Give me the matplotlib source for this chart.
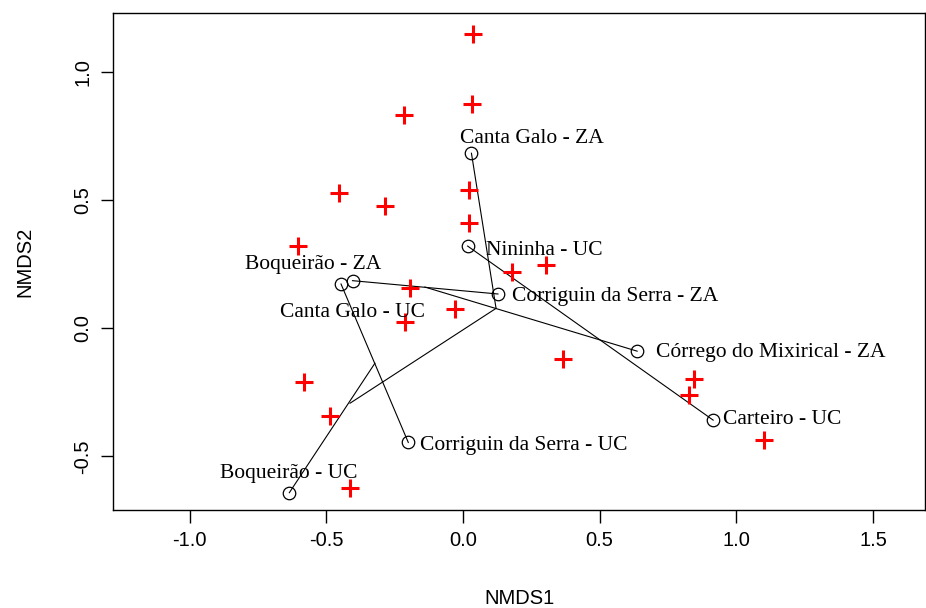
import matplotlib
matplotlib.use("Agg")
import matplotlib.pyplot as plt

# species scores (red crosses)
sp_x = [0.037, 0.033, -0.216, -0.453, -0.285, 0.022, 0.022, -0.603, 0.179, 0.303,
        -0.194, -0.029, -0.212, 0.366, -0.581, 0.845, 0.826, -0.486, 1.10, -0.413]
sp_y = [1.148, 0.875, 0.832, 0.527, 0.477, 0.539, 0.410, 0.320, 0.219, 0.246,
        0.156, 0.074, 0.023, -0.121, -0.211, -0.199, -0.262, -0.344, -0.437, -0.625]

# sites (open circles)
site_names = ["Canta Galo - ZA", "Nininha - UC", "Boqueirão - ZA", "Canta Galo - UC",
              "Corriguin da Serra - ZA", "Córrego do Mixirical - ZA", "Carteiro - UC",
              "Corriguin da Serra - UC", "Boqueirão - UC"]
site_x = [0.031, 0.017, -0.404, -0.446, 0.128, 0.637, 0.915, -0.200, -0.635]
site_y = [0.682, 0.320, 0.185, 0.172, 0.133, -0.090, -0.359, -0.446, -0.642]

# segment endpoints (x0, y0, x1, y1)
seg_x0 = [0.031, -0.404, -0.139, 0.017, -0.446, -0.635, -0.413]
seg_y0 = [0.682, 0.185, 0.160, 0.320, 0.172, -0.642, -0.293]
seg_x1 = [0.121, 0.128, 0.637, 0.915, -0.200, -0.322, 0.121]
seg_y1 = [0.077, 0.133, -0.090, -0.359, -0.446, -0.137, 0.077]

# label offsets in pixels (dx, dy) and alignment
label_pos = {
    "Canta Galo - ZA": (-11, 15, "left"),
    "Nininha - UC": (18, -4, "left"),
    "Boqueirão - ZA": (-39, 16, "center"),
    "Canta Galo - UC": (11, -29, "center"),
    "Corriguin da Serra - ZA": (14, -3, "left"),
    "Córrego do Mixirical - ZA": (19, -1, "left"),
    "Carteiro - UC": (10, 1, "left"),
    "Corriguin da Serra - UC": (12, -3, "left"),
    "Boqueirão - UC": (-1, 19, "center"),
}

fig = plt.figure(figsize=(9.26, 6.08), dpi=100)
ax = fig.add_axes([0.122, 0.161, 0.877, 0.818])

for x0, y0, x1, y1 in zip(seg_x0, seg_y0, seg_x1, seg_y1):
    ax.plot([x0, x1], [y0, y1], color="black", lw=0.8, zorder=2)

ax.plot(sp_x, sp_y, "+", color="red", ms=12.5, mew=2.2, zorder=3)
ax.plot(site_x, site_y, "o", mfc="none", mec="black", ms=9, mew=0.9, zorder=4)

for name, x, y in zip(site_names, site_x, site_y):
    dx, dy, ha = label_pos[name]
    ax.annotate(name, (x, y), xytext=(dx * 0.72, dy * 0.72), textcoords="offset points",
                ha=ha, va="center", fontsize=15.5, family="Liberation Serif", zorder=5)

ax.set_xlim(-1.28, 1.69)
ax.set_ylim(-0.71, 1.23)
ax.set_xticks([-1.0, -0.5, 0.0, 0.5, 1.0, 1.5])
ax.set_yticks([-0.5, 0.0, 0.5, 1.0])
ax.set_xticklabels(["-1.0", "-0.5", "0.0", "0.5", "1.0", "1.5"])
ax.set_yticklabels(["-0.5", "0.0", "0.5", "1.0"], rotation=90, va="center")
ax.tick_params(length=9, width=1, labelsize=14.5, pad=6)
for lab in ax.get_xticklabels() + ax.get_yticklabels():
    lab.set_family("Liberation Sans")
for s in ax.spines.values():
    s.set_linewidth(1)

ax.set_xlabel("NMDS1", fontsize=14.5, family="Liberation Sans", labelpad=28)
ax.set_ylabel("NMDS2", fontsize=14.5, family="Liberation Sans", labelpad=28)

fig.savefig("out.png", dpi=100)
